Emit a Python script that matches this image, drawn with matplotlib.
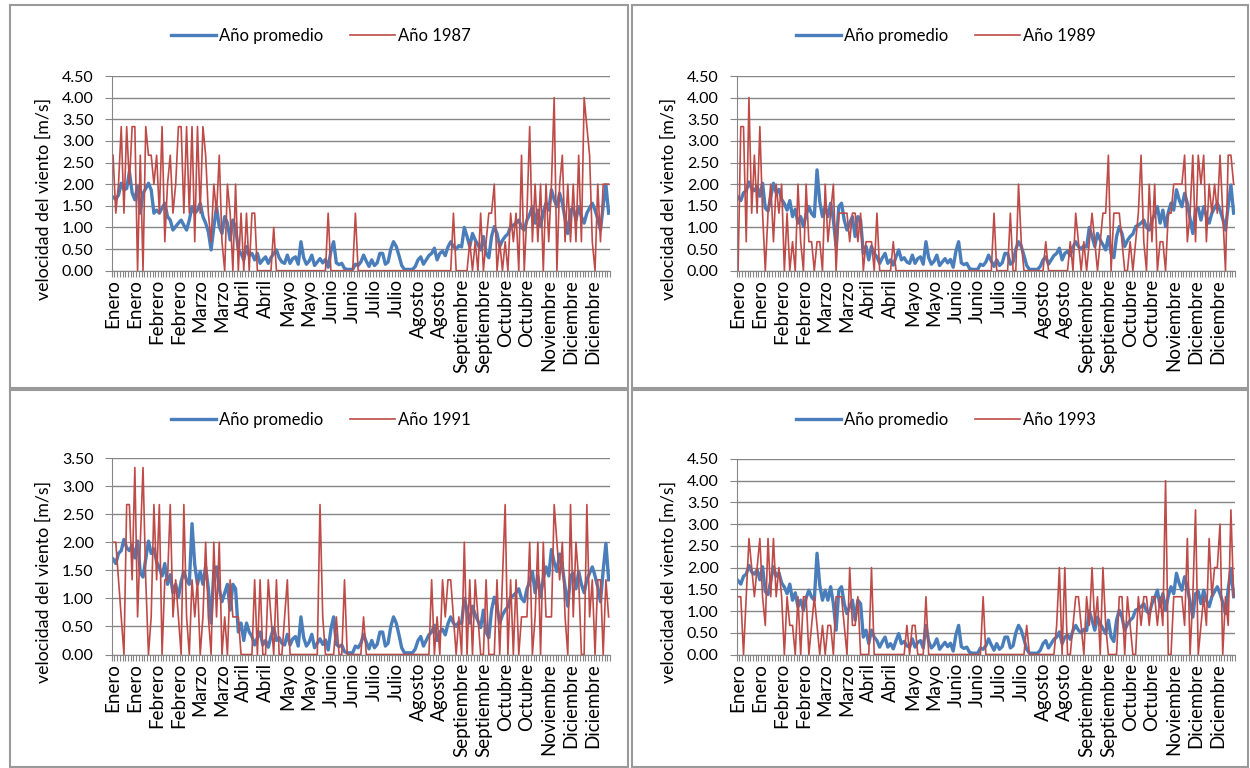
import numpy as np
import matplotlib.pyplot as plt
from matplotlib.patches import Rectangle
from matplotlib.ticker import FormatStrFormatter, MultipleLocator

plt.rcParams['font.family'] = ['Lato', 'DejaVu Sans']

# etiquetas del eje x (una cada 8 registros)
meses = ["Enero", "Enero", "Febrero", "Febrero", "Marzo", "Marzo", "Abril", "Abril",
         "Mayo", "Mayo", "Junio", "Junio", "Julio", "Julio", "Agosto", "Agosto",
         "Septiembre", "Septiembre", "Octubre", "Octubre", "Noviembre", "Diciembre", "Diciembre"]

# año promedio (paneles 1989, 1991, 1993)
prom_comun = [
    1.70, 1.62, 1.80, 1.85, 2.05, 1.90, 1.85, 1.95, 1.72, 2.02,
    1.45, 1.38, 1.70, 2.02, 1.80, 1.88, 1.65, 1.55, 1.40, 1.62,
    1.25, 1.42, 1.10, 1.25, 1.02, 1.30, 1.48, 1.32, 1.25, 2.33,
    1.60, 1.25, 1.48, 1.25, 1.56, 1.17, 0.56, 1.48, 1.56, 1.17,
    0.94, 1.10, 1.25, 0.79, 1.25, 1.17, 0.40, 0.56, 0.25, 0.56,
    0.40, 0.32, 0.17, 0.30, 0.40, 0.17, 0.25, 0.13, 0.32, 0.48,
    0.25, 0.30, 0.20, 0.17, 0.36, 0.17, 0.28, 0.32, 0.15, 0.67,
    0.30, 0.15, 0.22, 0.36, 0.12, 0.20, 0.28, 0.18, 0.26, 0.08,
    0.45, 0.67, 0.18, 0.14, 0.17, 0.05, 0.03, 0.03, 0.03, 0.15,
    0.12, 0.20, 0.36, 0.22, 0.10, 0.25, 0.12, 0.18, 0.40, 0.40,
    0.15, 0.20, 0.50, 0.67, 0.56, 0.35, 0.12, 0.03, 0.03, 0.03,
    0.03, 0.10, 0.25, 0.32, 0.15, 0.25, 0.35, 0.40, 0.52, 0.25,
    0.40, 0.45, 0.35, 0.55, 0.67, 0.56, 0.50, 0.58, 0.55, 1.00,
    0.79, 0.56, 0.86, 0.71, 0.60, 0.48, 0.79, 0.40, 0.30, 0.79,
    1.02, 0.86, 0.56, 0.70, 0.79, 0.85, 1.02, 1.05, 1.10, 1.17,
    1.00, 0.94, 1.17, 1.30, 1.48, 1.10, 1.40, 1.02, 1.35, 1.56,
    1.40, 1.87, 1.64, 1.48, 1.79, 1.56, 1.20, 0.86, 1.40, 1.45,
    1.17, 1.48, 1.25, 1.10, 1.33, 1.45, 1.56, 1.40, 1.20, 0.94,
    1.50, 1.98, 1.33]

# el promedio del panel 1987 difiere en el primer tramo
prom_1987_ini = [
    1.70, 1.65, 1.75, 2.02, 1.87, 1.90, 2.29, 1.80, 1.64, 1.95,
    1.33, 1.79, 1.90, 2.02, 1.87, 1.33, 1.40, 1.33, 1.45, 1.56,
    1.25, 1.17, 0.94, 1.02, 1.10, 1.17, 1.05, 0.94, 1.17, 1.48,
    1.33, 1.40, 1.56, 1.25, 1.10, 0.90, 0.48, 1.00, 1.48, 1.02,
    0.86, 1.25, 1.10, 0.71, 1.17, 1.00, 0.48, 0.40, 0.25, 0.56,
    0.35, 0.40, 0.25, 0.40, 0.17, 0.25, 0.32, 0.17, 0.30, 0.40, 0.48]
prom_1987 = prom_1987_ini + prom_comun[61:]

anio_1987 = [
    2.67, 1.33, 2.0, 3.33, 1.33, 3.33, 2.0, 3.33, 3.33, 0,
    2.67, 0, 3.33, 2.67, 2.67, 2.0, 2.67, 1.33, 3.33, 0.67,
    2.0, 2.67, 1.33, 2.0, 3.33, 3.33, 1.33, 3.33, 1.33, 3.33,
    0.67, 3.33, 1.33, 3.33, 2.67, 1.33, 0.67, 2.0, 1.33, 2.67,
    0.67, 0, 2.0, 1.33, 0, 2.0, 0, 1.33, 0, 1.33,
    0, 1.33, 1.33, 0, 0, 0, 0, 0, 0, 1.0,
    0, 0, 0, 0, 0, 0, 0, 0, 0, 0,
    0, 0, 0, 0, 0, 0, 0, 0, 0, 1.33,
    0, 0, 0, 0, 0, 0, 0, 0, 0, 1.33,
    0, 0, 0, 0, 0, 0, 0, 0, 0, 0,
    0, 0, 0, 0, 0, 0, 0, 0, 0, 0,
    0, 0, 0, 0, 0, 0, 0, 0, 0, 0,
    0, 0, 0, 0, 0, 1.33, 0, 0, 0, 0,
    0, 0.67, 0, 0.67, 0, 1.33, 0, 0.67, 1.33, 1.33,
    2.0, 0, 0.67, 0, 0.67, 0, 1.33, 0.67, 1.33, 0,
    2.67, 0, 1.33, 3.33, 0.67, 2.0, 0.67, 2.0, 0, 2.0,
    0.67, 2.0, 4.0, 0, 2.0, 2.67, 0.67, 2.0, 0.67, 2.0,
    0.67, 2.67, 0.67, 4.0, 3.33, 2.67, 0.67, 0, 2.0, 0.67,
    2.0, 2.0, 2.0]

anio_1989 = [
    0, 3.33, 3.33, 0.67, 4.0, 1.33, 2.67, 1.33, 3.33, 1.33,
    0, 1.33, 2.0, 0.67, 2.0, 1.33, 2.0, 0, 1.33, 0,
    0.67, 0, 2.0, 0.67, 0, 2.0, 0.67, 0.67, 0, 0.67,
    0.67, 0, 2.0, 0.67, 1.33, 2.0, 0, 1.33, 1.33, 1.33,
    1.33, 0.67, 1.33, 1.33, 0.67, 1.33, 0, 0.67, 0.67, 0.67,
    0, 1.33, 0, 0, 0, 0, 0, 0.67, 0, 0,
    0, 0, 0, 0, 0, 0, 0, 0, 0, 0,
    0, 0, 0, 0, 0, 0, 0, 0, 0, 0,
    0, 0, 0, 0, 0, 0, 0, 0, 0, 0,
    0, 0, 0, 0, 1.33, 0, 0, 0, 0, 0,
    1.33, 0, 0, 2.0, 0.67, 0, 0, 0, 0, 0,
    0, 0, 0, 0.67, 0, 0, 0, 0, 0, 0,
    0, 0, 0.67, 0, 1.33, 0.67, 0, 0.67, 0, 0.67,
    1.33, 0.67, 0, 0.67, 1.33, 1.33, 2.67, 0, 1.33, 1.33,
    1.33, 0.67, 0, 0, 0.67, 0, 0.67, 1.33, 2.67, 0.67,
    0, 2.0, 0.67, 2.0, 0, 0.67, 0.67, 0, 1.33, 1.33,
    2.0, 2.0, 2.0, 2.0, 2.67, 0.67, 1.33, 2.67, 0.67, 2.67,
    2.0, 2.67, 0.67, 2.0, 1.33, 2.0, 1.33, 2.67, 1.33, 0,
    2.67, 2.67, 2.0]

anio_1991 = [
    2.0, 2.0, 1.33, 0.67, 0, 2.67, 2.67, 1.33, 3.33, 0.67,
    2.0, 3.33, 1.33, 0, 0.67, 2.67, 1.33, 2.67, 0, 1.33,
    1.33, 2.67, 0.67, 1.33, 0.67, 0, 2.67, 0.67, 0, 1.33,
    0.67, 1.33, 0, 0.67, 2.0, 0.67, 0, 2.0, 0.67, 2.0,
    0, 0.67, 0, 1.33, 0.67, 0.67, 0.67, 0, 0, 0,
    0, 0, 1.33, 0, 1.33, 0, 0, 1.33, 0.67, 0,
    1.33, 0, 0, 0.67, 1.33, 0, 0, 0, 0, 0,
    0, 0, 0, 0, 0, 0, 2.67, 0.67, 0, 0,
    0, 0, 0.67, 0, 0, 1.33, 0, 0, 0, 0,
    0, 0, 0.67, 0, 0, 0, 0, 0, 0, 0,
    0, 0, 0, 0, 0, 0, 0, 0, 0, 0,
    0, 0, 0, 0, 0, 0, 0, 1.33, 0, 0.67,
    0, 1.33, 0.67, 1.33, 1.33, 0.67, 0, 0.67, 0, 2.0,
    0, 1.33, 0, 1.33, 0.67, 0, 0, 1.33, 0, 0,
    0, 1.33, 0, 1.33, 2.67, 0, 1.33, 0, 1.33, 0,
    0.67, 0.67, 0.67, 2.0, 0, 0.67, 2.0, 0, 2.0, 0.67,
    0.67, 0.67, 2.67, 2.0, 1.33, 2.0, 0.67, 0, 2.67, 0.67,
    2.0, 1.33, 0, 0, 2.67, 0.67, 1.33, 0, 1.33, 1.33,
    0, 1.33, 0.67]

anio_1993 = [
    1.33, 1.33, 0, 1.33, 2.67, 2.0, 1.33, 2.0, 2.67, 1.33,
    0.67, 2.67, 1.33, 2.67, 1.33, 2.0, 1.33, 0, 1.33, 0.67,
    0.67, 0, 1.33, 0, 1.33, 1.33, 0, 0.67, 1.33, 0.67,
    0, 0.67, 0, 0.67, 0.67, 0, 1.33, 1.33, 1.33, 0.67,
    0, 2.0, 0.67, 0.67, 1.33, 0, 0, 0, 0, 2.0,
    0, 0, 0, 0, 0, 0, 0, 0, 0, 0,
    0, 0, 0.67, 0, 0.67, 0.67, 0, 0, 0, 1.33,
    0, 0, 0, 0, 0, 0, 0, 0, 0, 0,
    0, 0, 0, 0, 0, 0, 0, 0, 0, 0,
    1.33, 0, 0, 0, 0, 0, 0, 0, 0, 0,
    0, 0, 0, 0, 0, 0, 0.67, 0, 0, 0,
    0, 0, 0, 0, 0, 0, 0, 0.67, 2.0, 0,
    2.0, 0, 0, 0.67, 1.33, 1.33, 0.67, 0, 1.33, 0.67,
    2.0, 0.67, 1.33, 0, 2.0, 0.67, 0, 0, 0, 0,
    1.33, 1.33, 0, 1.33, 0.67, 0, 0, 1.33, 0.67, 1.33,
    1.33, 0.67, 1.33, 1.33, 0.67, 1.33, 0.67, 4.0, 0, 0,
    1.33, 1.33, 1.33, 1.33, 0.67, 2.67, 0, 1.33, 3.33, 0,
    0.67, 1.33, 0.67, 2.67, 1.33, 2.0, 2.0, 3.0, 0, 1.33,
    0.67, 3.33, 1.33]

W, H = 1250, 768
AZUL = "#4A7EBB"
ROJO = "#BE4B48"
GRIS = "#868686"

fig = plt.figure(figsize=(12.5, 7.68), dpi=100)

def rect_px(l, t, r, b):
    return [l / W, 1 - b / H, (r - l) / W, (b - t) / H]

# marcos de cada grafico
for (l, t, r, b) in [(10, 5, 628, 388), (632, 5, 1248, 388),
                     (10, 390, 628, 767), (632, 390, 1248, 767)]:
    fig.patches.append(Rectangle((l / W, 1 - b / H), (r - l) / W, (b - t) / H,
                                 transform=fig.transFigure, fill=False,
                                 edgecolor="#9a9a9a", linewidth=1.5))

paneles = [
    ((111.7, 76, 610, 270.7), (321, 36), prom_1987, anio_1987, "Año 1987", 4.5),
    ((736.7, 76, 1235, 270.7), (946, 36), prom_comun, anio_1989, "Año 1989", 4.5),
    ((111.7, 458, 610, 654.5), (321, 420), prom_comun, anio_1991, "Año 1991", 3.5),
    ((736.7, 459, 1235, 654.5), (946, 420), prom_comun, anio_1993, "Año 1993", 4.5),
]

x = np.arange(len(prom_comun))

for caja, leyenda, prom, anio, nombre, ymax in paneles:
    ax = fig.add_axes(rect_px(*caja))
    ax.plot(x, prom, color=AZUL, linewidth=2.4, label="Año promedio")
    ax.plot(x, anio, color=ROJO, linewidth=1.2, label=nombre)

    ax.set_xlim(-0.5, len(x) - 0.5)
    ax.set_ylim(0, ymax)
    ax.yaxis.set_major_locator(MultipleLocator(0.5))
    ax.yaxis.set_major_formatter(FormatStrFormatter("%.2f"))
    ax.grid(axis="y", color=GRIS, linewidth=1)
    ax.set_axisbelow(True)

    ax.set_xticks(np.arange(0, len(x), 8))
    ax.set_xticklabels(meses, rotation=90)
    ax.set_xticks(np.arange(-0.5, len(x), 1), minor=True)
    ax.tick_params(axis="x", which="major", length=0, pad=6, labelsize=13.5)
    ax.tick_params(axis="x", which="minor", length=4, color=GRIS, width=0.8)
    ax.tick_params(axis="y", length=5, color=GRIS, labelsize=11.5, pad=8)

    for s in ["top", "right"]:
        ax.spines[s].set_visible(False)
    for s in ["left", "bottom"]:
        ax.spines[s].set_color(GRIS)

    ax.set_ylabel("velocidad del viento [m/s]", fontsize=12.8)
    ax.yaxis.set_label_coords(-0.12, 0.37)

    ax.legend(loc="center", bbox_to_anchor=(leyenda[0] / W, 1 - leyenda[1] / H),
              bbox_transform=fig.transFigure, ncol=2, frameon=False, fontsize=12,
              handlelength=2.7, handletextpad=0.2, columnspacing=1.6)

fig.savefig("out.png", dpi=100)
